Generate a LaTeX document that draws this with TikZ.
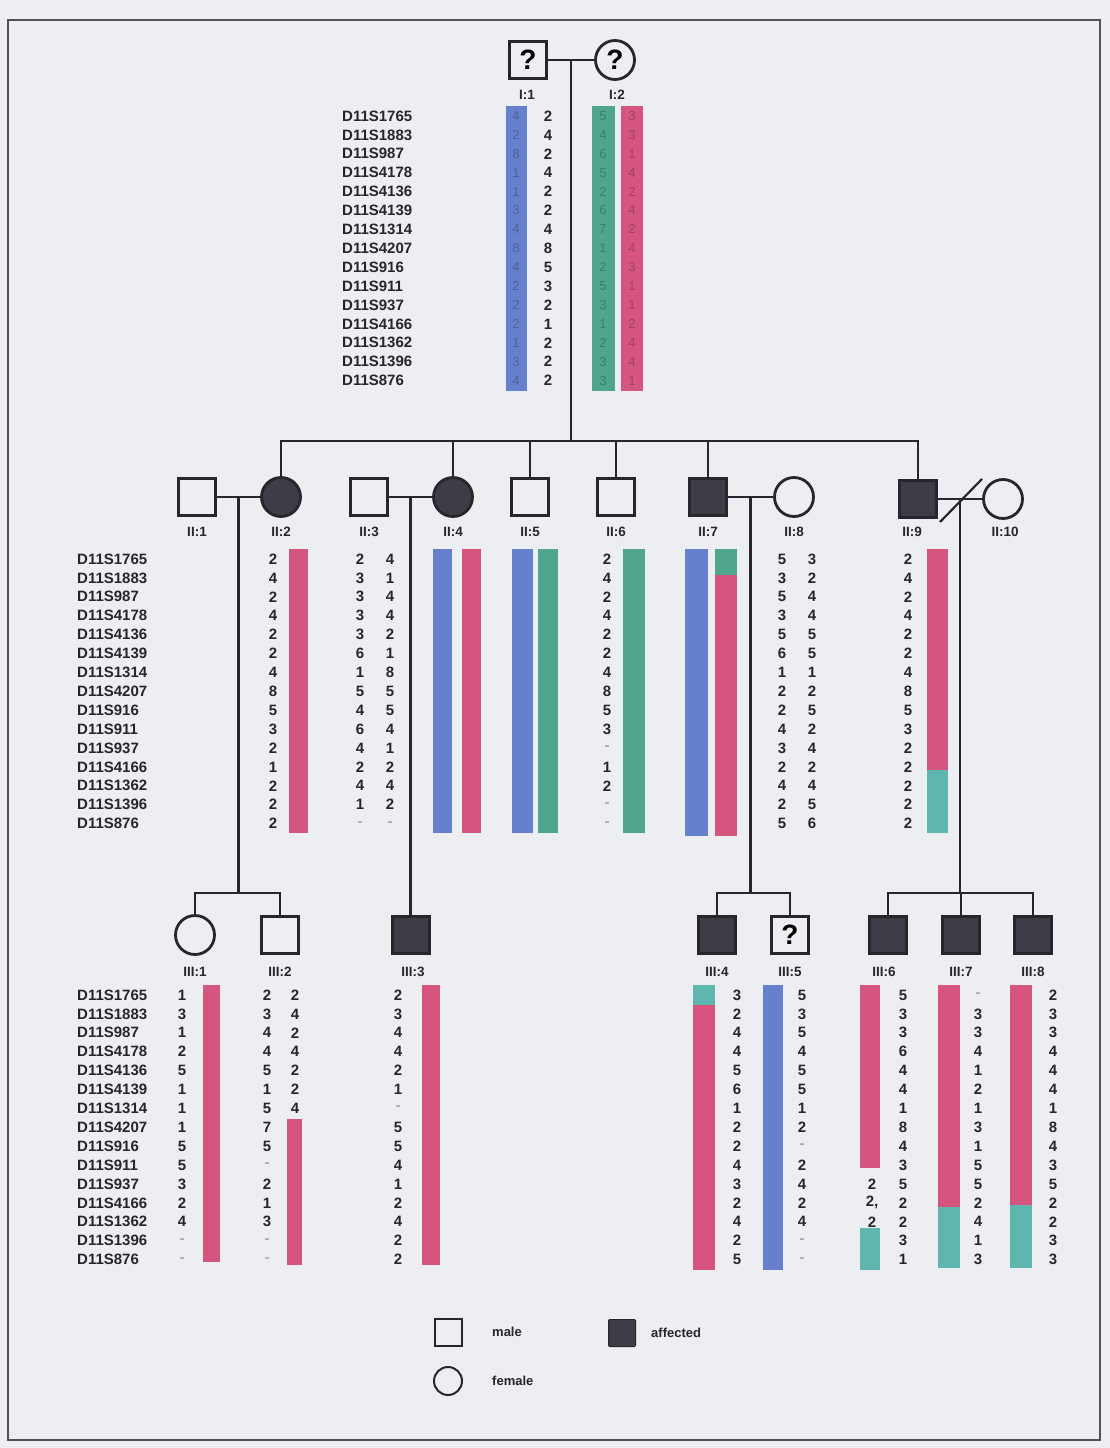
\documentclass[tikz,border=0pt]{standalone}
\usepackage{fontspec}
\setmainfont{Liberation Sans}
\usetikzlibrary{calc}

\definecolor{bg}{HTML}{ECEEF1}
\definecolor{ink}{HTML}{26262C}
\definecolor{affill}{HTML}{403C47}
\definecolor{hblue}{HTML}{6580CC}
\definecolor{hgreen}{HTML}{4FA68C}
\definecolor{hred}{HTML}{D5557F}
\definecolor{hteal}{HTML}{5FB6AF}

\newcommand\mkfont{\bfseries\fontsize{15}{15}\selectfont}
\newcommand\lbfont{\bfseries\fontsize{13.5}{13.5}\selectfont}
\newcommand\lgfont{\bfseries\fontsize{13}{13}\selectfont}
\newcommand\qfont{\bfseries\fontsize{28}{28}\selectfont}
\newcommand\nodat{\textcolor{ink!40}{-}}

% one column of alleles: name, x, y of first marker, style, values
\newcommand\numcol[5]{%
  \foreach \v [count=\k] in {#5} {\node[#4] (#1-\k) at (#2,{#3+18.9*(\k-1)}) {\v};}}
% the fifteen marker names: name prefix, x, y of first marker
\newcommand\markercol[3]{%
  \foreach \m [count=\k] in {D11S1765,D11S1883,D11S987,D11S4178,D11S4136,D11S4139,D11S1314,D11S4207,D11S916,D11S911,D11S937,D11S4166,D11S1362,D11S1396,D11S876}
    {\node[mk] (#1-\k) at (#2,{#3+18.9*(\k-1)}) {\m};}}

\tikzset{
  sym/.style={draw=ink, line width=2.8pt, inner sep=0pt},
  male/.style={sym, rectangle, minimum size=37pt},
  female/.style={sym, circle, minimum size=39pt},
  aff/.style={fill=affill},
  link/.style={draw=ink, line width=2.6pt},
  mk/.style={anchor=west, inner sep=0pt, font=\mkfont, text=ink},
  num/.style={inner sep=0pt, font=\mkfont, text=ink},
  fblue/.style={inner sep=0pt, font=\fontsize{13}{13}\selectfont, text=hblue!60!black, opacity=0.6},
  fgreen/.style={inner sep=0pt, font=\fontsize{13}{13}\selectfont, text=hgreen!60!black, opacity=0.6},
  fred/.style={inner sep=0pt, font=\fontsize{13}{13}\selectfont, text=hred!60!black, opacity=0.6},
  lab/.style={inner sep=0pt, font=\lbfont, text=ink},
  lgtext/.style={anchor=west, inner sep=0pt, font=\lgfont, text=ink},
}

\begin{document}
\begin{tikzpicture}[x=1pt, y=-1pt]
  \useasboundingbox (0,0) rectangle (1110,1448);
  \fill[bg] (0,0) rectangle (1110,1448);
  \draw[ink!80, line width=1.6pt] (8,20) rectangle (1100,1440);

  % ---------------- haplotype bars ----------------
  % generation I
  \fill[hblue]  (506,106) rectangle (527,391);
  \fill[hgreen] (592,106) rectangle (615,391);
  \fill[hred]   (621,106) rectangle (643,391);
  % generation II
  \fill[hred]   (289,549) rectangle (308,833);
  \fill[hblue]  (433,549) rectangle (452,833);
  \fill[hred]   (462,549) rectangle (481,833);
  \fill[hblue]  (512,549) rectangle (533,833);
  \fill[hgreen] (538,549) rectangle (558,833);
  \fill[hgreen] (623,549) rectangle (645,833);
  \fill[hblue]  (685,549) rectangle (708,836);
  \fill[hgreen] (715,549) rectangle (737,575);
  \fill[hred]   (715,575) rectangle (737,836);
  \fill[hred]   (927,549) rectangle (948,770);
  \fill[hteal]  (927,770) rectangle (948,833);
  % generation III
  \fill[hred]   (203,985) rectangle (220,1262);
  \fill[hred]   (287,1119) rectangle (302,1265);
  \fill[hred]   (422,985) rectangle (440,1265);
  \fill[hteal]  (693,985) rectangle (715,1005);
  \fill[hred]   (693,1005) rectangle (715,1270);
  \fill[hblue]  (763,985) rectangle (783,1270);
  \fill[hred]   (860,985) rectangle (880,1168);
  \fill[hteal]  (860,1228) rectangle (880,1270);
  \fill[hred]   (938,985) rectangle (960,1207);
  \fill[hteal]  (938,1207) rectangle (960,1268);
  \fill[hred]   (1010,985) rectangle (1032,1205);
  \fill[hteal]  (1010,1205) rectangle (1032,1268);

  % ---------------- generation I ----------------
  \node[male]   (I1) at (528,60) {\qfont ?};
  \node[female] (I2) at (615,60) {\qfont ?};
  \node[lab] (lI1) at (527,95) {I:1};
  \node[lab] (lI2) at (617,95) {I:2};
  \markercol{mI}{342}{116}
  \numcol{aI1b}{516}{116}{fblue}{4,2,8,1,1,3,4,8,4,2,2,2,1,3,4}
  \numcol{aI1}{548}{116}{num}{2,4,2,4,2,2,4,8,5,3,2,1,2,2,2}
  \numcol{aI2g}{603}{116}{fgreen}{5,4,6,5,2,6,7,1,2,5,3,1,2,3,3}
  \numcol{aI2r}{632}{116}{fred}{3,3,1,4,2,4,2,4,3,1,1,2,4,4,1}

  % ---------------- generation II ----------------
  \node[male]        (II1)  at (197,497) {};
  \node[female, aff] (II2)  at (281,497) {};
  \node[male]        (II3)  at (369,497) {};
  \node[female, aff] (II4)  at (453,497) {};
  \node[male]        (II5)  at (530,497) {};
  \node[male]        (II6)  at (616,497) {};
  \node[male, aff]   (II7)  at (708,497) {};
  \node[female]      (II8)  at (794,497) {};
  \node[male, aff]   (II9)  at (918,499) {};
  \node[female]      (II10) at (1003,499) {};
  \foreach \n/\x/\t in {II1/197/II:1, II2/281/II:2, II3/369/II:3, II4/453/II:4, II5/530/II:5,
                        II6/616/II:6, II7/708/II:7, II8/794/II:8, II9/912/II:9, II10/1005/II:10}
    \node[lab] (l\n) at (\x,532) {\t};

  \markercol{mII}{77}{559}
  \numcol{aII2}{273}{559}{num}{2,4,2,4,2,2,4,8,5,3,2,1,2,2,2}
  \numcol{aII3a}{360}{559}{num}{2,3,3,3,3,6,1,5,4,6,4,2,4,1,\nodat}
  \numcol{aII3b}{390}{559}{num}{4,1,4,4,2,1,8,5,5,4,1,2,4,2,\nodat}
  \numcol{aII6}{607}{559}{num}{2,4,2,4,2,2,4,8,5,3,\nodat,1,2,\nodat,\nodat}
  \numcol{aII8a}{782}{559}{num}{5,3,5,3,5,6,1,2,2,4,3,2,4,2,5}
  \numcol{aII8b}{812}{559}{num}{3,2,4,4,5,5,1,2,5,2,4,2,4,5,6}
  \numcol{aII9}{908}{559}{num}{2,4,2,4,2,2,4,8,5,3,2,2,2,2,2}

  % ---------------- generation III ----------------
  \node[female]    (III1) at (195,935) {};
  \node[male]      (III2) at (280,935) {};
  \node[male, aff] (III3) at (411,935) {};
  \node[male, aff] (III4) at (717,935) {};
  \node[male]      (III5) at (790,935) {\qfont ?};
  \node[male, aff] (III6) at (888,935) {};
  \node[male, aff] (III7) at (961,935) {};
  \node[male, aff] (III8) at (1033,935) {};
  \foreach \n/\x/\t in {III1/195/III:1, III2/280/III:2, III3/413/III:3, III4/717/III:4,
                        III5/790/III:5, III6/884/III:6, III7/961/III:7, III8/1033/III:8}
    \node[lab] (l\n) at (\x,972) {\t};

  \markercol{mIII}{77}{995}
  \numcol{aIII1}{182}{995}{num}{1,3,1,2,5,1,1,1,5,5,3,2,4,\nodat,\nodat}
  \numcol{aIII2a}{267}{995}{num}{2,3,4,4,5,1,5,7,5,\nodat,2,1,3,\nodat,\nodat}
  \numcol{aIII2b}{295}{995}{num}{2,4,2,4,2,2,4}
  \numcol{aIII3}{398}{995}{num}{2,3,4,4,2,1,\nodat,5,5,4,1,2,4,2,2}
  \numcol{aIII4}{737}{995}{num}{3,2,4,4,5,6,1,2,2,4,3,2,4,2,5}
  \numcol{aIII5}{802}{995}{num}{5,3,5,4,5,5,1,2,\nodat,2,4,2,4,\nodat,\nodat}
  \numcol{aIII6a}{872}{1184}{num}{2,{2,},2}
  \numcol{aIII6b}{903}{995}{num}{5,3,3,6,4,4,1,8,4,3,5,2,2,3,1}
  \numcol{aIII7}{978}{995}{num}{\nodat,3,3,4,1,2,1,3,1,5,5,2,4,1,3}
  \numcol{aIII8}{1053}{995}{num}{2,3,3,4,4,4,1,8,4,3,5,2,2,3,3}

  % ---------------- lines of descent ----------------
  \draw[link] (I1.east) -- (I2.west);
  \coordinate (mI) at ($(I1.east)!0.5!(I2.west)$);
  \coordinate (sib2) at (572,441);
  \draw[link] (mI) -- (mI |- sib2);
  \draw[link, line cap=rect] (II2.north |- sib2) -- (II9.north |- sib2);
  \foreach \n in {II2,II4,II5,II6,II7,II9}
    \draw[link] (\n.north |- sib2) -- (\n.north);

  % couples of generation II
  \draw[link] (II1.east) -- (II2.west);
  \draw[link] (II3.east) -- (II4.west);
  \draw[link] (II7.east) -- (II8.west);
  \draw[link] (II9.east) -- (II10.west);
  \coordinate (m12) at ($(II1.east)!0.5!(II2.west)$);
  \coordinate (m34) at ($(II3.east)!0.5!(II4.west)$);
  \coordinate (m78) at ($(II7.east)!0.5!(II8.west)$);
  \coordinate (m910) at ($(II9.east)!0.5!(II10.west)$);
  % separation mark
  \coordinate (sepA) at (940,522);
  \coordinate (sepB) at (982,479);
  \draw[link, line width=2.2pt] (sepA) -- (sepB);

  % sibships of generation III
  \coordinate (sib3) at (0,893);
  \draw[link] (m12) -- (m12 |- sib3);
  \draw[link, line cap=rect] (III1.north |- sib3) -- (III2.north |- sib3);
  \draw[link] (III1.north |- sib3) -- (III1.north);
  \draw[link] (III2.north |- sib3) -- (III2.north);

  \draw[link] (m34) -- (m34 |- III3.north);

  \draw[link] (m78) -- (m78 |- sib3);
  \draw[link, line cap=rect] (III4.north |- sib3) -- (III5.north |- sib3);
  \draw[link] (III4.north |- sib3) -- (III4.north);
  \draw[link] (III5.north |- sib3) -- (III5.north);

  \draw[link] (m910) -- (m910 |- sib3);
  \draw[link, line cap=rect] (III6.north |- sib3) -- (III8.north |- sib3);
  \foreach \n in {III6,III7,III8}
    \draw[link] (\n.north |- sib3) -- (\n.north);

  % ---------------- legend ----------------
  \node[male, minimum size=27pt, line width=2pt] (lgM) at (448,1332) {};
  \node[lgtext] (lgMt) at (492,1332) {male};
  \node[male, aff, minimum size=27pt, line width=1pt, rounded corners=1pt] (lgA) at (622,1333) {};
  \node[lgtext] (lgAt) at (651,1333) {affected};
  \node[female, minimum size=28pt, line width=2pt] (lgF) at (448,1381) {};
  \node[lgtext] (lgFt) at (492,1381) {female};
\end{tikzpicture}
\end{document}
